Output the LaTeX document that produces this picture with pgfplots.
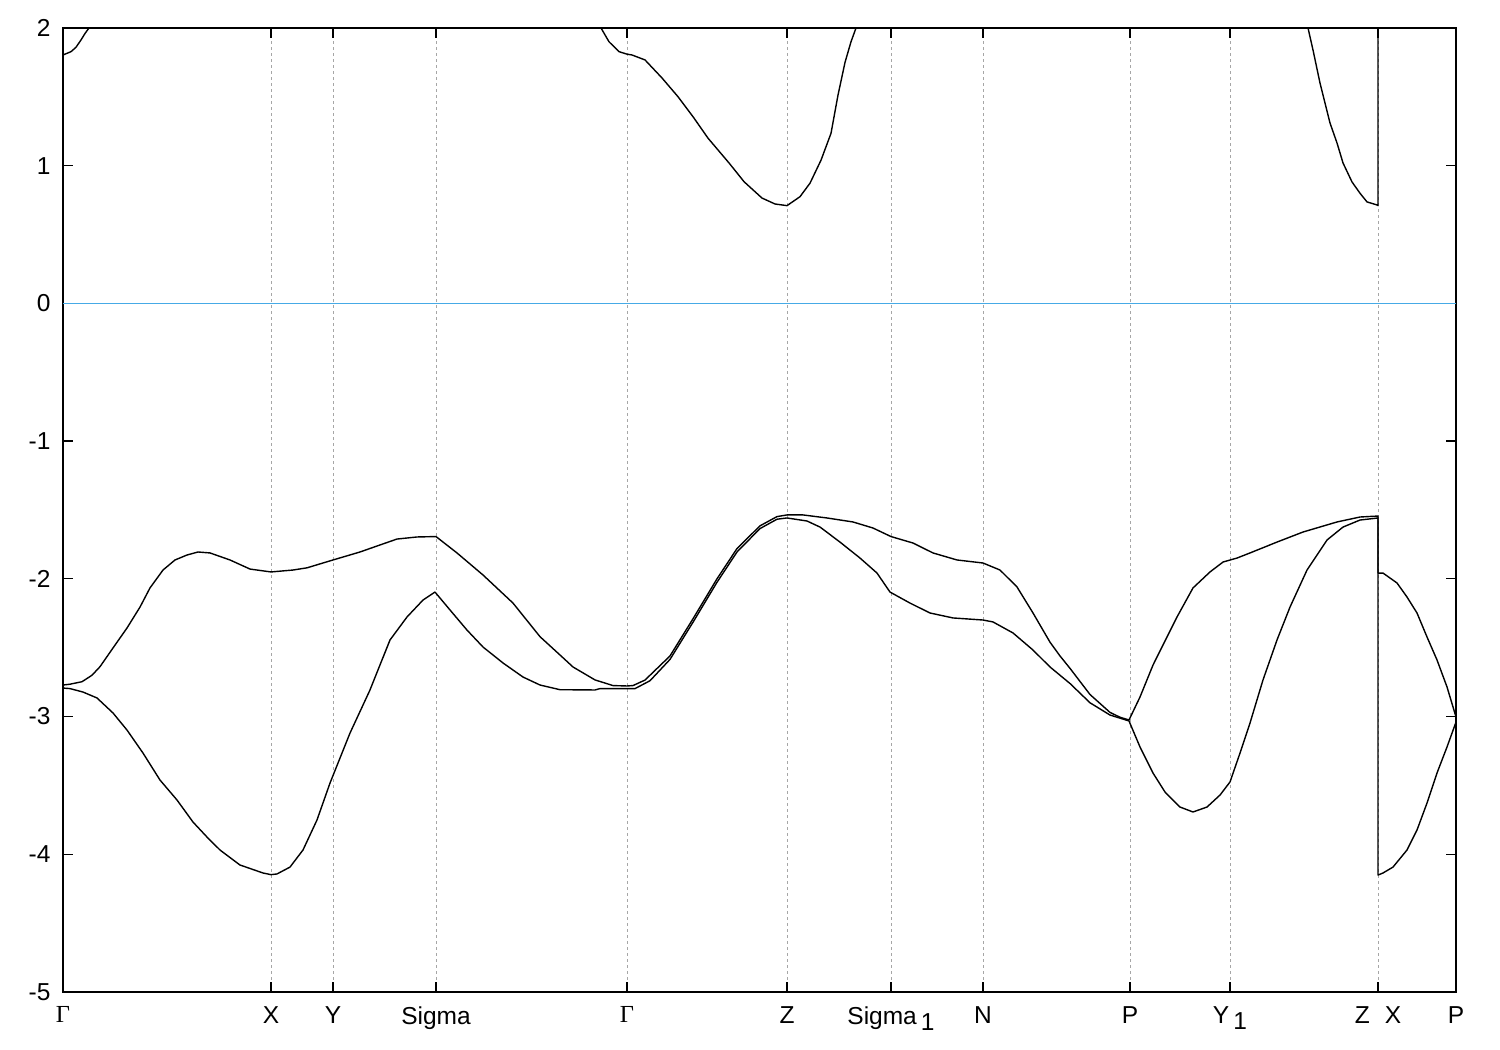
\documentclass[border=0pt]{standalone}
\usepackage{fontspec}
\setmainfont{Liberation Sans}
\newfontfamily\serifG{Liberation Serif}
\usepackage{pgfplots}
\pgfplotsset{compat=1.18}
\newcommand{\G}{{\serifG Γ}}
\newcommand{\sub}[1]{\raisebox{-6bp}{#1}}

\pgfplotstableread{
x y
63 -2.771
70 -2.765
82 -2.747
92 -2.70
100 -2.638
113 -2.502
127 -2.357
140 -2.205
150 -2.066
163 -1.936
175 -1.863
187 -1.827
198 -1.805
210 -1.812
230 -1.863
250 -1.929
271 -1.950
293 -1.936
307 -1.920
333 -1.863
360 -1.805
380 -1.754
397 -1.711
417 -1.696
436 -1.693
457 -1.812
483 -1.972
513 -2.176
540 -2.420
560 -2.553
573 -2.640
595 -2.734
613 -2.775
627 -2.778
633 -2.775
645 -2.735
660 -2.630
670 -2.560
693 -2.290
717 -2.000
737 -1.780
760 -1.615
777 -1.548
787 -1.536
803 -1.536
827 -1.558
853 -1.587
873 -1.631
891 -1.693
913 -1.740
933 -1.812
957 -1.863
983 -1.885
1000 -1.936
1017 -2.059
1033 -2.248
1050 -2.460
1060 -2.560
1070 -2.650
1090 -2.840
1110 -2.970
1120 -3.005
1129 -3.025
1140 -2.858
1153 -2.626
1167 -2.422
1177 -2.277
1193 -2.066
1210 -1.950
1223 -1.878
1237 -1.849
1250 -1.812
1277 -1.733
1303 -1.660
1337 -1.587
1360 -1.551
1378 -1.544
1378 -1.958
1383 -1.958
1397 -2.030
1407 -2.132
1417 -2.248
1427 -2.422
1437 -2.589
1447 -2.785
1456 -3.003
}\bandA

\pgfplotstableread{
x y
63 -2.793
70 -2.797
83 -2.822
97 -2.865
113 -2.974
127 -3.098
143 -3.265
160 -3.461
177 -3.606
193 -3.766
207 -3.875
220 -3.969
240 -4.078
263 -4.136
271 -4.148
277 -4.143
290 -4.093
303 -3.969
317 -3.751
330 -3.483
350 -3.120
370 -2.807
390 -2.444
407 -2.277
423 -2.154
435 -2.096
450 -2.226
467 -2.372
483 -2.495
503 -2.611
523 -2.713
540 -2.771
560 -2.805
595 -2.807
600 -2.797
635 -2.797
650 -2.740
670 -2.585
693 -2.315
717 -2.025
737 -1.805
760 -1.635
777 -1.567
787 -1.558
807 -1.580
820 -1.624
840 -1.733
860 -1.849
877 -1.958
890 -2.096
910 -2.176
930 -2.248
953 -2.284
983 -2.299
993 -2.313
1013 -2.393
1033 -2.517
1050 -2.640
1060 -2.700
1070 -2.760
1090 -2.900
1110 -2.989
1129 -3.032
1140 -3.221
1153 -3.410
1165 -3.548
1180 -3.657
1193 -3.693
1207 -3.657
1220 -3.570
1230 -3.475
1240 -3.265
1250 -3.047
1263 -2.734
1277 -2.444
1290 -2.205
1307 -1.936
1327 -1.718
1343 -1.624
1360 -1.573
1378 -1.558
1378 -4.151
1383 -4.136
1393 -4.093
1407 -3.969
1417 -3.824
1427 -3.628
1437 -3.410
1447 -3.221
1456 -3.040
}\bandB

\pgfplotstableread{
x y
63 1.804
71 1.828
76 1.860
81 1.913
85 1.960
89 2.000
93 2.080
}\condA

\pgfplotstableread{
x y
598 2.080
601 2.000
609 1.900
619 1.828
627 1.810
632 1.804
645 1.768
662 1.637
678 1.501
693 1.356
708 1.200
729 1.020
744 0.884
762 0.765
775 0.722
787 0.710
800 0.775
810 0.873
821 1.040
831 1.235
838 1.513
845 1.750
851 1.900
856 2.000
858 2.080
}\condB

\pgfplotstableread{
x y
1306 2.080
1308 2.000
1313 1.840
1320 1.600
1330 1.310
1337 1.165
1343 1.020
1352 0.882
1360 0.800
1367 0.737
1377 0.715
1378 0.710
1378 2.200
}\condC

\begin{document}
\begin{tikzpicture}
\begin{axis}[
  name=ax,
  scale only axis,
  width=1393bp, height=964bp,
  xmin=63, xmax=1456, ymin=-5, ymax=2,
  xtick={63,271,333,436,627,787,891,983,1130,1230,1378,1456},
  xticklabels={\G,X,Y,Sigma,\G,Z,Sigma\,\sub{1},N,P,Y\,\sub{1},Z\hspace{15bp}X,P},
  ytick={-5,-4,-3,-2,-1,0,1,2},
  yticklabels={-5,-4,-3,-2,-1,0,1,2},
  tick label style={font=\fontsize{24.5bp}{28bp}\selectfont, text=black},
  xticklabel style={yshift=-11bp},
  yticklabel style={xshift=-9bp},
  xmajorgrids,
  grid style={gray!70, dash pattern=on 3bp off 3bp, line width=0.6bp},
  axis line style={line width=1.3bp, black},
  major tick style={line width=1.3bp, black},
  major tick length=10bp,
  tick align=inside,
  clip=true,
]
\addplot[draw={rgb,255:red,70;green,170;blue,230}, line width=1.6bp] table[x=x,y=y] {
x y
63 0
1456 0
};
\addplot[black, line width=1.4bp, line join=round] table[x=x,y=y] {\bandA};
\addplot[black, line width=1.4bp, line join=round] table[x=x,y=y] {\bandB};
\addplot[black, line width=1.4bp, line join=round] table[x=x,y=y] {\condA};
\addplot[black, line width=1.4bp, line join=round] table[x=x,y=y] {\condB};
\addplot[black, line width=1.4bp, line join=round] table[x=x,y=y] {\condC};
\end{axis}
\path ([xshift=-63bp,yshift=-58bp]ax.south west) rectangle ([xshift=44bp,yshift=28bp]ax.north east);
\end{tikzpicture}
\end{document}
